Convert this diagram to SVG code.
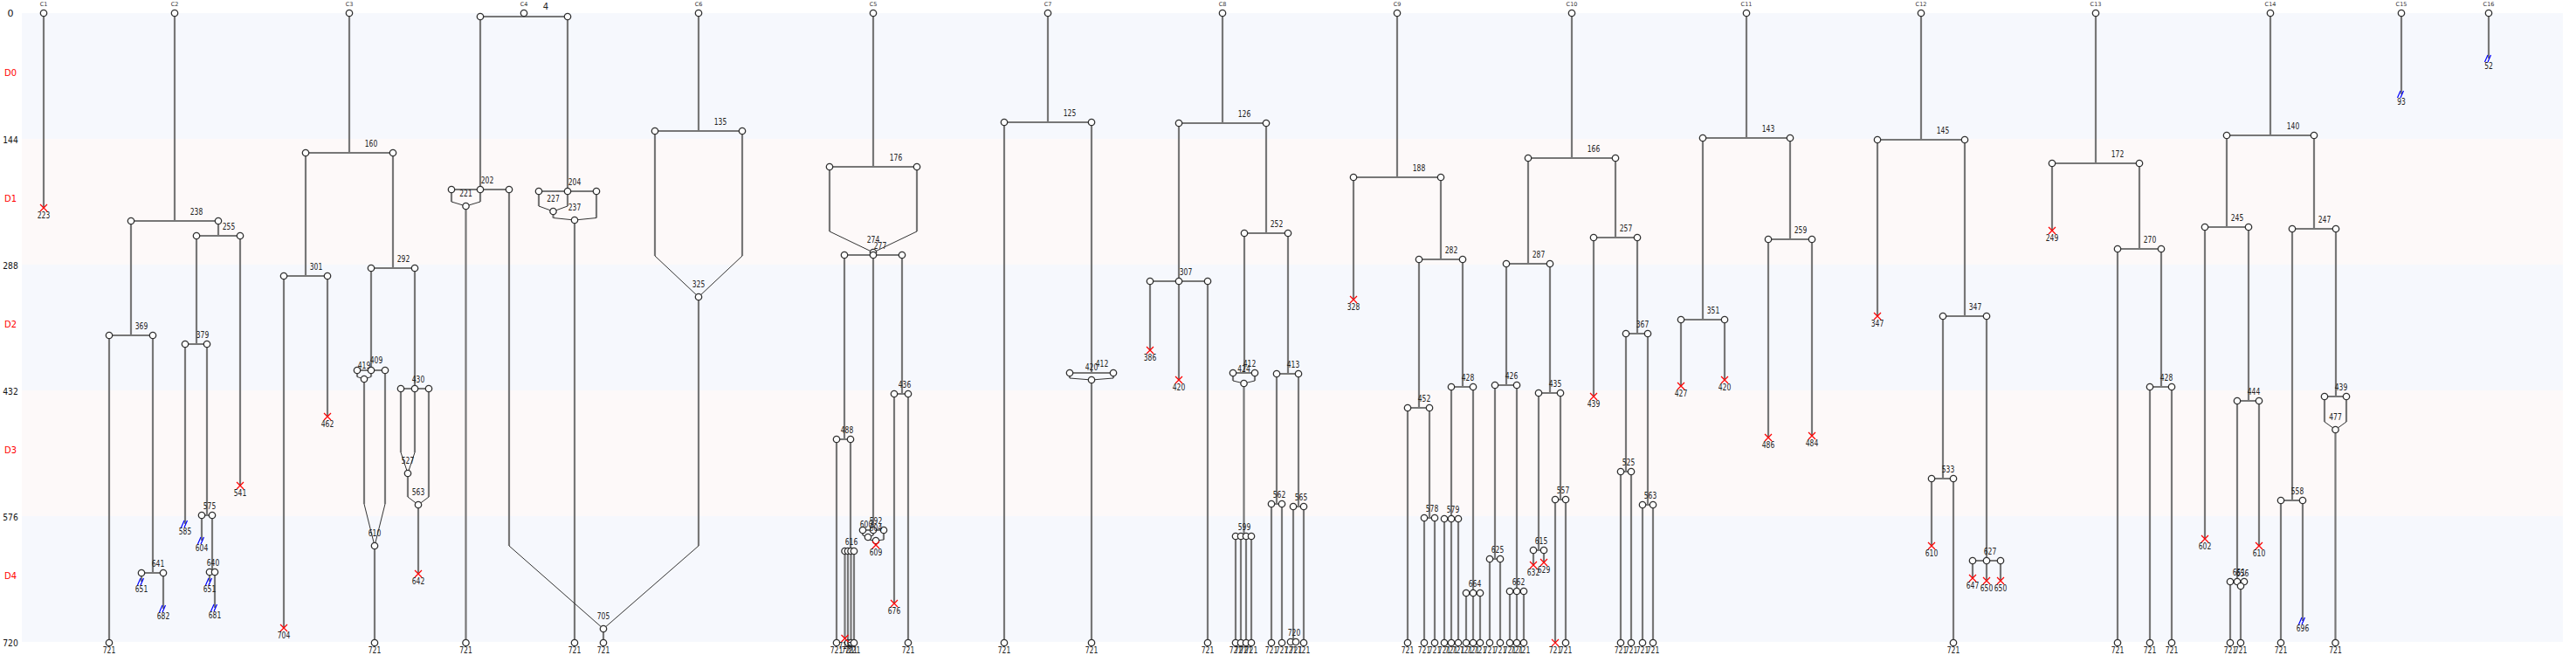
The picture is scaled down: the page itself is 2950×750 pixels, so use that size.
<svg xmlns="http://www.w3.org/2000/svg" xmlns:xlink="http://www.w3.org/1999/xlink" width="2950" height="750" viewBox="0 0 2950 750">
<style>
.e{stroke:#777;stroke-width:2.2;fill:none}
.d{stroke:#333;stroke-width:1;fill:none}
.n{fill:#fff;stroke:#333;stroke-width:1.3}
.xm{stroke:#f00;stroke-width:1.2;fill:none}
.bm{stroke:#00f;stroke-width:1.2;fill:none}
text{font-family:"DejaVu Sans","Liberation Sans",sans-serif}
.t{font-size:10px;fill:#222;text-anchor:middle}
.c{font-size:6.5px;fill:#333;text-anchor:middle}
.a{font-size:11px;fill:#111;text-anchor:middle}
.r{fill:#f00}
</style>
<defs>
<circle id="n" r="3.7" class="n"/>
<path id="x" d="M-4-4L4 4M-4 4L4-4" class="xm"/>
<path id="b" d="M-4.5 4L-1-4M-1 4L2.5-4" class="bm"/>
</defs>
<g id="bands">
<rect x="25" y="15" width="2910" height="144" fill="#f6f8fd"/>
<rect x="25" y="159" width="2910" height="144" fill="#fdf9f9"/>
<rect x="25" y="303" width="2910" height="144" fill="#f6f8fd"/>
<rect x="25" y="447" width="2910" height="144" fill="#fdf9f9"/>
<rect x="25" y="591" width="2910" height="144" fill="#f6f8fd"/>
</g>
<g id="axis">
<text class="a" x="12" y="19">0</text>
<text class="a r" x="12" y="87" textLength="14" lengthAdjust="spacingAndGlyphs">D0</text>
<text class="a" x="12" y="164" textLength="17.5" lengthAdjust="spacingAndGlyphs">144</text>
<text class="a r" x="12" y="231" textLength="14" lengthAdjust="spacingAndGlyphs">D1</text>
<text class="a" x="12" y="308" textLength="17.5" lengthAdjust="spacingAndGlyphs">288</text>
<text class="a r" x="12" y="375" textLength="14" lengthAdjust="spacingAndGlyphs">D2</text>
<text class="a" x="12" y="452" textLength="17.5" lengthAdjust="spacingAndGlyphs">432</text>
<text class="a r" x="12" y="519" textLength="14" lengthAdjust="spacingAndGlyphs">D3</text>
<text class="a" x="12" y="596" textLength="17.5" lengthAdjust="spacingAndGlyphs">576</text>
<text class="a r" x="12" y="663" textLength="14" lengthAdjust="spacingAndGlyphs">D4</text>
<text class="a" x="12" y="740" textLength="17.5" lengthAdjust="spacingAndGlyphs">720</text>
</g>
<g id="connectors">
<path class="e" d="M50 15V238"/>
<path class="e" d="M200 15V253M150 253H250M250 253V270M225 270H275M150 253V384M125 384H175M125 384V736M175 384V656M162 656H187M162 656V666M187 656V697M225 270V394M212 394H237M212 394V600M237 394V590M231 590H243M231 590V619M243 590V655M240 655H246M240 655V666M246 655V696M275 270V556"/>
<path class="e" d="M400 15V175M350 175H450M350 175V316M325 316H375M325 316V719M375 316V477M450 175V307M425 307H475M425 307V424M409 424H441M409 424V431.5M425 424V431.5M417 434V577M441 424V577M429 625V736M475 307V445M459 445H491M459 445V518M475 445V518M467 542V569M491 445V569M479 578V657"/>
<path class="d" d="M409 431.5L417 434M425 431.5L417 434M417 577L429 625M441 577L429 625M459 518L467 542M475 518L467 542M467 569L479 578M491 569L479 578"/>
<path class="e" d="M600 15V19M550 19H650M550 19V217M517 217H583M517 217V231M550 217V231M533.5 236V736M583 217V625M650 19V219M617 219H683M617 219V236M650 219V236M633.5 242V249.5M683 219V249.5M658 252V736"/>
<path class="d" d="M517 231L533.5 236M550 231L533.5 236M617 236L633.5 242M650 236L633.5 242M633.5 249.5L658 252M683 249.5L658 252M583 625L691 720"/>
<path class="e" d="M800 15V150M750 150H850M750 150V293M850 150V293M800 340V625M691 720V736"/>
<path class="d" d="M750 293L800 340M850 293L800 340M800 625L691 720"/>
<path class="e" d="M1000 15V191M950 191H1050M950 191V265M1050 191V265M1000 289V292M967 292H1033M967 292V503M958 503H974M958 503V736M974 503V631M967.5 631H978M967.5 631V731M971 631V736M974.5 631V736M978 631V736M1000 292V607M988 607H1012M988 607V613M1000 607V613M994 615V618M1012 607V618M1003 619V624M1033 292V451M1024 451H1040M1024 451V691M1040 451V736"/>
<path class="d" d="M950 265L1000 289M1050 265L1000 289M988 613L994 615M1000 613L994 615M994 618L1003 619M1012 618L1003 619"/>
<path class="e" d="M1200 15V140M1150 140H1250M1150 140V736M1250 140V427M1225 427H1275M1225 427V433M1275 427V433M1250 435V736"/>
<path class="d" d="M1225 433L1250 435M1275 433L1250 435"/>
<path class="e" d="M1400 15V141M1350 141H1450M1350 141V322M1317 322H1383M1317 322V401M1350 322V435M1383 322V736M1450 141V267M1425 267H1475M1425 267V427M1412 427H1437M1412 427V436M1437 427V436M1424.5 439V614M1415 614H1433M1415 614V736M1421 614V736M1427 614V736M1433 614V736M1475 267V428M1462 428H1487M1462 428V577M1456 577H1468M1456 577V736M1468 577V736M1487 428V580M1481 580H1493M1481 580V735M1478 735H1484M1493 580V736"/>
<path class="d" d="M1412 436L1424.5 439M1437 436L1424.5 439"/>
<path class="e" d="M1600 15V203M1550 203H1650M1550 203V343M1650 203V297M1625 297H1675M1625 297V467M1612 467H1637M1612 467V736M1637 467V593M1631 593H1643M1631 593V736M1643 593V736M1675 297V443M1662 443H1687M1662 443V594M1654 594H1670M1654 594V736M1662 594V736M1670 594V736M1687 443V679M1679 679H1695M1679 679V736M1687 679V736M1695 679V736"/>
<path class="e" d="M1800 15V181M1750 181H1850M1750 181V302M1725 302H1775M1725 302V441M1712 441H1737M1712 441V640M1706 640H1718M1706 640V736M1718 640V736M1737 441V677M1729 677H1745M1729 677V736M1737 677V736M1745 677V736M1775 302V450M1762 450H1787M1762 450V630M1756 630H1768M1756 630V647M1768 630V644M1787 450V572M1781 572H1793M1781 572V736M1793 572V736M1850 181V272M1825 272H1875M1825 272V454M1875 272V382M1862 382H1887M1862 382V540M1856 540H1868M1856 540V736M1868 540V736M1887 382V578M1881 578H1893M1881 578V736M1893 578V736"/>
<path class="e" d="M2000 15V158M1950 158H2050M1950 158V366M1925 366H1975M1925 366V442M1975 366V435M2050 158V274M2025 274H2075M2025 274V501M2075 274V499"/>
<path class="e" d="M2200 15V160M2150 160H2250M2150 160V362M2250 160V362M2225 362H2275M2225 362V548M2212 548H2237M2212 548V625M2237 548V736M2275 362V642M2259 642H2291M2259 642V662M2275 642V665M2291 642V665"/>
<path class="e" d="M2400 15V187M2350 187H2450M2350 187V264M2450 187V285M2425 285H2475M2425 285V736M2475 285V443M2462 443H2487M2462 443V736M2487 443V736"/>
<path class="e" d="M2600 15V155M2550 155H2650M2550 155V260M2525 260H2575M2525 260V617M2575 260V459M2562 459H2587M2562 459V666M2554 666H2570M2554 666V736M2562 666V669M2570 666V669M2566 671V736M2587 459V625M2650 155V262M2625 262H2675M2625 262V573M2612 573H2637M2612 573V736M2637 573V711M2675 262V454M2662 454H2687M2662 454V483M2687 454V483M2674.5 492V736"/>
<path class="d" d="M2562 669L2566 671M2570 669L2566 671M2662 483L2674.5 492M2687 483L2674.5 492"/>
<path class="e" d="M2750 15V108M2850 15V67"/>
</g>
<g id="tree-C1">
<text class="c" x="50" y="7">C1</text>
<use href="#n" x="50" y="15"/><use href="#x" x="50" y="238"/>
<text class="t" x="50" y="250" textLength="14.5" lengthAdjust="spacingAndGlyphs">223</text>
</g>
<g id="tree-C2">
<text class="c" x="200" y="7">C2</text>
<use href="#n" x="200" y="15"/><use href="#n" x="150" y="253"/><use href="#n" x="250" y="253"/><use href="#n" x="225" y="270"/><use href="#n" x="275" y="270"/><use href="#n" x="125" y="384"/><use href="#n" x="175" y="384"/><use href="#n" x="125" y="736"/><use href="#n" x="162" y="656"/><use href="#n" x="187" y="656"/><use href="#n" x="212" y="394"/><use href="#n" x="237" y="394"/><use href="#n" x="231" y="590"/><use href="#n" x="243" y="590"/><use href="#n" x="240" y="655"/><use href="#n" x="246" y="655"/>
<use href="#b" x="162" y="666"/><use href="#b" x="187" y="697"/><use href="#b" x="212" y="600"/><use href="#b" x="231" y="619"/><use href="#b" x="240" y="666"/><use href="#b" x="246" y="696"/><use href="#x" x="275" y="556"/>
<text class="t" x="225" y="245.5" textLength="14.5" lengthAdjust="spacingAndGlyphs">238</text>
<text class="t" x="262" y="262.5" textLength="14.5" lengthAdjust="spacingAndGlyphs">255</text>
<text class="t" x="162" y="376.5" textLength="14.5" lengthAdjust="spacingAndGlyphs">369</text>
<text class="t" x="125" y="748" textLength="14.5" lengthAdjust="spacingAndGlyphs">721</text>
<text class="t" x="181" y="648.5" textLength="14.5" lengthAdjust="spacingAndGlyphs">641</text>
<text class="t" x="162" y="678" textLength="14.5" lengthAdjust="spacingAndGlyphs">651</text>
<text class="t" x="187" y="709" textLength="14.5" lengthAdjust="spacingAndGlyphs">682</text>
<text class="t" x="232" y="386.5" textLength="14.5" lengthAdjust="spacingAndGlyphs">379</text>
<text class="t" x="212" y="612" textLength="14.5" lengthAdjust="spacingAndGlyphs">585</text>
<text class="t" x="240" y="582.5" textLength="14.5" lengthAdjust="spacingAndGlyphs">575</text>
<text class="t" x="231" y="631" textLength="14.5" lengthAdjust="spacingAndGlyphs">604</text>
<text class="t" x="244" y="647.5" textLength="14.5" lengthAdjust="spacingAndGlyphs">640</text>
<text class="t" x="240" y="678" textLength="14.5" lengthAdjust="spacingAndGlyphs">651</text>
<text class="t" x="246" y="708" textLength="14.5" lengthAdjust="spacingAndGlyphs">681</text>
<text class="t" x="275" y="568" textLength="14.5" lengthAdjust="spacingAndGlyphs">541</text>
</g>
<g id="tree-C3">
<text class="c" x="400" y="7">C3</text>
<use href="#n" x="400" y="15"/><use href="#n" x="350" y="175"/><use href="#n" x="450" y="175"/><use href="#n" x="325" y="316"/><use href="#n" x="375" y="316"/><use href="#n" x="425" y="307"/><use href="#n" x="475" y="307"/><use href="#n" x="409" y="424"/><use href="#n" x="425" y="424"/><use href="#n" x="441" y="424"/><use href="#n" x="417" y="434"/><use href="#n" x="429" y="625"/><use href="#n" x="429" y="736"/><use href="#n" x="459" y="445"/><use href="#n" x="475" y="445"/><use href="#n" x="491" y="445"/><use href="#n" x="467" y="542"/><use href="#n" x="479" y="578"/>
<use href="#x" x="325" y="719"/><use href="#x" x="375" y="477"/><use href="#x" x="479" y="657"/>
<text class="t" x="425" y="167.5" textLength="14.5" lengthAdjust="spacingAndGlyphs">160</text>
<text class="t" x="362" y="308.5" textLength="14.5" lengthAdjust="spacingAndGlyphs">301</text>
<text class="t" x="325" y="731" textLength="14.5" lengthAdjust="spacingAndGlyphs">704</text>
<text class="t" x="375" y="489" textLength="14.5" lengthAdjust="spacingAndGlyphs">462</text>
<text class="t" x="462" y="299.5" textLength="14.5" lengthAdjust="spacingAndGlyphs">292</text>
<text class="t" x="431" y="416" textLength="14.5" lengthAdjust="spacingAndGlyphs">409</text>
<text class="t" x="417" y="422" textLength="14.5" lengthAdjust="spacingAndGlyphs">419</text>
<text class="t" x="429" y="613.5" textLength="14.5" lengthAdjust="spacingAndGlyphs">610</text>
<text class="t" x="429" y="748" textLength="14.5" lengthAdjust="spacingAndGlyphs">721</text>
<text class="t" x="479" y="437.5" textLength="14.5" lengthAdjust="spacingAndGlyphs">430</text>
<text class="t" x="467" y="530.5" textLength="14.5" lengthAdjust="spacingAndGlyphs">527</text>
<text class="t" x="479" y="566.5" textLength="14.5" lengthAdjust="spacingAndGlyphs">563</text>
<text class="t" x="479" y="669" textLength="14.5" lengthAdjust="spacingAndGlyphs">642</text>
</g>
<g id="tree-C4">
<text class="c" x="600" y="7">C4</text>
<use href="#n" x="550" y="19"/><use href="#n" x="650" y="19"/><use href="#n" x="600" y="15"/><use href="#n" x="517" y="217"/><use href="#n" x="550" y="217"/><use href="#n" x="583" y="217"/><use href="#n" x="533.5" y="236"/><use href="#n" x="533.5" y="736"/><use href="#n" x="617" y="219"/><use href="#n" x="650" y="219"/><use href="#n" x="683" y="219"/><use href="#n" x="633.5" y="242"/><use href="#n" x="658" y="252"/><use href="#n" x="658" y="736"/>
<text class="t" x="625" y="11.3">4</text>
<text class="t" x="558" y="209.5" textLength="14.5" lengthAdjust="spacingAndGlyphs">202</text>
<text class="t" x="533.5" y="224.5" textLength="14.5" lengthAdjust="spacingAndGlyphs">221</text>
<text class="t" x="658" y="211.5" textLength="14.5" lengthAdjust="spacingAndGlyphs">204</text>
<text class="t" x="633.5" y="230.5" textLength="14.5" lengthAdjust="spacingAndGlyphs">227</text>
<text class="t" x="658" y="240.5" textLength="14.5" lengthAdjust="spacingAndGlyphs">237</text>
<text class="t" x="533.5" y="748" textLength="14.5" lengthAdjust="spacingAndGlyphs">721</text>
<text class="t" x="658" y="748" textLength="14.5" lengthAdjust="spacingAndGlyphs">721</text>
</g>
<g id="tree-C6">
<text class="c" x="800" y="7">C6</text>
<use href="#n" x="800" y="15"/><use href="#n" x="750" y="150"/><use href="#n" x="850" y="150"/><use href="#n" x="800" y="340"/><use href="#n" x="691" y="720"/><use href="#n" x="691" y="736"/>
<text class="t" x="825" y="142.5" textLength="14.5" lengthAdjust="spacingAndGlyphs">135</text>
<text class="t" x="800" y="328.5" textLength="14.5" lengthAdjust="spacingAndGlyphs">325</text>
<text class="t" x="691" y="708.5" textLength="14.5" lengthAdjust="spacingAndGlyphs">705</text>
<text class="t" x="691" y="748" textLength="14.5" lengthAdjust="spacingAndGlyphs">721</text>
</g>
<g id="tree-C5">
<text class="c" x="1000" y="7">C5</text>
<use href="#n" x="1000" y="15"/><use href="#n" x="950" y="191"/><use href="#n" x="1050" y="191"/><use href="#n" x="1000" y="289"/><use href="#n" x="967" y="292"/><use href="#n" x="1000" y="292"/><use href="#n" x="1033" y="292"/><use href="#n" x="958" y="503"/><use href="#n" x="974" y="503"/><use href="#n" x="958" y="736"/><use href="#n" x="967.5" y="631"/><use href="#n" x="971" y="631"/><use href="#n" x="974.5" y="631"/><use href="#n" x="978" y="631"/><use href="#n" x="971" y="736"/><use href="#n" x="974.5" y="736"/><use href="#n" x="978" y="736"/><use href="#n" x="988" y="607"/><use href="#n" x="1000" y="607"/><use href="#n" x="1012" y="607"/><use href="#n" x="994" y="615"/><use href="#n" x="1003" y="619"/><use href="#n" x="1024" y="451"/><use href="#n" x="1040" y="451"/><use href="#n" x="1040" y="736"/>
<use href="#x" x="967.5" y="731"/><use href="#x" x="1003" y="624"/><use href="#x" x="1024" y="691"/>
<text class="t" x="1026" y="183.5" textLength="14.5" lengthAdjust="spacingAndGlyphs">176</text>
<text class="t" x="1000" y="277.5" textLength="14.5" lengthAdjust="spacingAndGlyphs">274</text>
<text class="t" x="1008" y="284.5" textLength="14.5" lengthAdjust="spacingAndGlyphs">277</text>
<text class="t" x="970" y="495.5" textLength="14.5" lengthAdjust="spacingAndGlyphs">488</text>
<text class="t" x="958" y="748" textLength="14.5" lengthAdjust="spacingAndGlyphs">721</text>
<text class="t" x="975" y="623.5" textLength="14.5" lengthAdjust="spacingAndGlyphs">616</text>
<text class="t" x="967.5" y="743" textLength="14.5" lengthAdjust="spacingAndGlyphs">716</text>
<text class="t" x="971" y="748" textLength="14.5" lengthAdjust="spacingAndGlyphs">721</text>
<text class="t" x="974.5" y="748" textLength="14.5" lengthAdjust="spacingAndGlyphs">721</text>
<text class="t" x="978" y="748" textLength="14.5" lengthAdjust="spacingAndGlyphs">721</text>
<text class="t" x="1003" y="599.5" textLength="14.5" lengthAdjust="spacingAndGlyphs">592</text>
<text class="t" x="992" y="603.5" textLength="14.5" lengthAdjust="spacingAndGlyphs">600</text>
<text class="t" x="1003" y="608" textLength="14.5" lengthAdjust="spacingAndGlyphs">604</text>
<text class="t" x="1003" y="636" textLength="14.5" lengthAdjust="spacingAndGlyphs">609</text>
<text class="t" x="1036" y="443.5" textLength="14.5" lengthAdjust="spacingAndGlyphs">436</text>
<text class="t" x="1024" y="703" textLength="14.5" lengthAdjust="spacingAndGlyphs">676</text>
<text class="t" x="1040" y="748" textLength="14.5" lengthAdjust="spacingAndGlyphs">721</text>
</g>
<g id="tree-C7">
<text class="c" x="1200" y="7">C7</text>
<use href="#n" x="1200" y="15"/><use href="#n" x="1150" y="140"/><use href="#n" x="1250" y="140"/><use href="#n" x="1150" y="736"/><use href="#n" x="1225" y="427"/><use href="#n" x="1275" y="427"/><use href="#n" x="1250" y="435"/><use href="#n" x="1250" y="736"/>
<text class="t" x="1225" y="132.5" textLength="14.5" lengthAdjust="spacingAndGlyphs">125</text>
<text class="t" x="1150" y="748" textLength="14.5" lengthAdjust="spacingAndGlyphs">721</text>
<text class="t" x="1262" y="419.5" textLength="14.5" lengthAdjust="spacingAndGlyphs">412</text>
<text class="t" x="1250" y="423.5" textLength="14.5" lengthAdjust="spacingAndGlyphs">420</text>
<text class="t" x="1250" y="748" textLength="14.5" lengthAdjust="spacingAndGlyphs">721</text>
</g>
<g id="tree-C8">
<text class="c" x="1400" y="7">C8</text>
<use href="#n" x="1400" y="15"/><use href="#n" x="1350" y="141"/><use href="#n" x="1450" y="141"/><use href="#n" x="1317" y="322"/><use href="#n" x="1350" y="322"/><use href="#n" x="1383" y="322"/><use href="#n" x="1383" y="736"/><use href="#n" x="1425" y="267"/><use href="#n" x="1475" y="267"/><use href="#n" x="1412" y="427"/><use href="#n" x="1437" y="427"/><use href="#n" x="1424.5" y="439"/><use href="#n" x="1415" y="614"/><use href="#n" x="1421" y="614"/><use href="#n" x="1427" y="614"/><use href="#n" x="1433" y="614"/><use href="#n" x="1415" y="736"/><use href="#n" x="1421" y="736"/><use href="#n" x="1427" y="736"/><use href="#n" x="1433" y="736"/><use href="#n" x="1462" y="428"/><use href="#n" x="1487" y="428"/><use href="#n" x="1456" y="577"/><use href="#n" x="1468" y="577"/><use href="#n" x="1456" y="736"/><use href="#n" x="1468" y="736"/><use href="#n" x="1481" y="580"/><use href="#n" x="1493" y="580"/><use href="#n" x="1478" y="735"/><use href="#n" x="1484" y="735"/><use href="#n" x="1493" y="736"/>
<use href="#x" x="1317" y="401"/><use href="#x" x="1350" y="435"/>
<text class="t" x="1425" y="133.5" textLength="14.5" lengthAdjust="spacingAndGlyphs">126</text>
<text class="t" x="1358" y="314.5" textLength="14.5" lengthAdjust="spacingAndGlyphs">307</text>
<text class="t" x="1317" y="413" textLength="14.5" lengthAdjust="spacingAndGlyphs">386</text>
<text class="t" x="1350" y="447" textLength="14.5" lengthAdjust="spacingAndGlyphs">420</text>
<text class="t" x="1383" y="748" textLength="14.5" lengthAdjust="spacingAndGlyphs">721</text>
<text class="t" x="1462" y="259.5" textLength="14.5" lengthAdjust="spacingAndGlyphs">252</text>
<text class="t" x="1431" y="419.5" textLength="14.5" lengthAdjust="spacingAndGlyphs">412</text>
<text class="t" x="1424.5" y="426" textLength="14.5" lengthAdjust="spacingAndGlyphs">424</text>
<text class="t" x="1425" y="606.5" textLength="14.5" lengthAdjust="spacingAndGlyphs">599</text>
<text class="t" x="1415" y="748" textLength="14.5" lengthAdjust="spacingAndGlyphs">721</text>
<text class="t" x="1421" y="748" textLength="14.5" lengthAdjust="spacingAndGlyphs">721</text>
<text class="t" x="1427" y="748" textLength="14.5" lengthAdjust="spacingAndGlyphs">721</text>
<text class="t" x="1433" y="748" textLength="14.5" lengthAdjust="spacingAndGlyphs">721</text>
<text class="t" x="1481" y="420.5" textLength="14.5" lengthAdjust="spacingAndGlyphs">413</text>
<text class="t" x="1465" y="569.5" textLength="14.5" lengthAdjust="spacingAndGlyphs">562</text>
<text class="t" x="1456" y="748" textLength="14.5" lengthAdjust="spacingAndGlyphs">721</text>
<text class="t" x="1468" y="748" textLength="14.5" lengthAdjust="spacingAndGlyphs">721</text>
<text class="t" x="1490" y="572.5" textLength="14.5" lengthAdjust="spacingAndGlyphs">565</text>
<text class="t" x="1482" y="727.5" textLength="14.5" lengthAdjust="spacingAndGlyphs">720</text>
<text class="t" x="1478" y="748" textLength="14.5" lengthAdjust="spacingAndGlyphs">721</text>
<text class="t" x="1484" y="748" textLength="14.5" lengthAdjust="spacingAndGlyphs">721</text>
<text class="t" x="1493" y="748" textLength="14.5" lengthAdjust="spacingAndGlyphs">721</text>
</g>
<g id="tree-C9">
<text class="c" x="1600" y="7">C9</text>
<use href="#n" x="1600" y="15"/><use href="#n" x="1550" y="203"/><use href="#n" x="1650" y="203"/><use href="#n" x="1625" y="297"/><use href="#n" x="1675" y="297"/><use href="#n" x="1612" y="467"/><use href="#n" x="1637" y="467"/><use href="#n" x="1612" y="736"/><use href="#n" x="1631" y="593"/><use href="#n" x="1643" y="593"/><use href="#n" x="1631" y="736"/><use href="#n" x="1643" y="736"/><use href="#n" x="1662" y="443"/><use href="#n" x="1687" y="443"/><use href="#n" x="1654" y="594"/><use href="#n" x="1662" y="594"/><use href="#n" x="1670" y="594"/><use href="#n" x="1654" y="736"/><use href="#n" x="1662" y="736"/><use href="#n" x="1670" y="736"/><use href="#n" x="1679" y="679"/><use href="#n" x="1687" y="679"/><use href="#n" x="1695" y="679"/><use href="#n" x="1679" y="736"/><use href="#n" x="1687" y="736"/><use href="#n" x="1695" y="736"/>
<use href="#x" x="1550" y="343"/>
<text class="t" x="1625" y="195.5" textLength="14.5" lengthAdjust="spacingAndGlyphs">188</text>
<text class="t" x="1550" y="355" textLength="14.5" lengthAdjust="spacingAndGlyphs">328</text>
<text class="t" x="1662" y="289.5" textLength="14.5" lengthAdjust="spacingAndGlyphs">282</text>
<text class="t" x="1631" y="459.5" textLength="14.5" lengthAdjust="spacingAndGlyphs">452</text>
<text class="t" x="1612" y="748" textLength="14.5" lengthAdjust="spacingAndGlyphs">721</text>
<text class="t" x="1640" y="585.5" textLength="14.5" lengthAdjust="spacingAndGlyphs">578</text>
<text class="t" x="1631" y="748" textLength="14.5" lengthAdjust="spacingAndGlyphs">721</text>
<text class="t" x="1643" y="748" textLength="14.5" lengthAdjust="spacingAndGlyphs">721</text>
<text class="t" x="1681" y="435.5" textLength="14.5" lengthAdjust="spacingAndGlyphs">428</text>
<text class="t" x="1664" y="586.5" textLength="14.5" lengthAdjust="spacingAndGlyphs">579</text>
<text class="t" x="1654" y="748" textLength="14.5" lengthAdjust="spacingAndGlyphs">721</text>
<text class="t" x="1662" y="748" textLength="14.5" lengthAdjust="spacingAndGlyphs">721</text>
<text class="t" x="1670" y="748" textLength="14.5" lengthAdjust="spacingAndGlyphs">721</text>
<text class="t" x="1689" y="671.5" textLength="14.5" lengthAdjust="spacingAndGlyphs">664</text>
<text class="t" x="1679" y="748" textLength="14.5" lengthAdjust="spacingAndGlyphs">721</text>
<text class="t" x="1687" y="748" textLength="14.5" lengthAdjust="spacingAndGlyphs">721</text>
<text class="t" x="1695" y="748" textLength="14.5" lengthAdjust="spacingAndGlyphs">721</text>
</g>
<g id="tree-C10">
<text class="c" x="1800" y="7">C10</text>
<use href="#n" x="1800" y="15"/><use href="#n" x="1750" y="181"/><use href="#n" x="1850" y="181"/><use href="#n" x="1725" y="302"/><use href="#n" x="1775" y="302"/><use href="#n" x="1712" y="441"/><use href="#n" x="1737" y="441"/><use href="#n" x="1706" y="640"/><use href="#n" x="1718" y="640"/><use href="#n" x="1706" y="736"/><use href="#n" x="1718" y="736"/><use href="#n" x="1729" y="677"/><use href="#n" x="1737" y="677"/><use href="#n" x="1745" y="677"/><use href="#n" x="1729" y="736"/><use href="#n" x="1737" y="736"/><use href="#n" x="1745" y="736"/><use href="#n" x="1762" y="450"/><use href="#n" x="1787" y="450"/><use href="#n" x="1756" y="630"/><use href="#n" x="1768" y="630"/><use href="#n" x="1781" y="572"/><use href="#n" x="1793" y="572"/><use href="#n" x="1793" y="736"/><use href="#n" x="1825" y="272"/><use href="#n" x="1875" y="272"/><use href="#n" x="1862" y="382"/><use href="#n" x="1887" y="382"/><use href="#n" x="1856" y="540"/><use href="#n" x="1868" y="540"/><use href="#n" x="1856" y="736"/><use href="#n" x="1868" y="736"/><use href="#n" x="1881" y="578"/><use href="#n" x="1893" y="578"/><use href="#n" x="1881" y="736"/><use href="#n" x="1893" y="736"/>
<use href="#x" x="1756" y="647"/><use href="#x" x="1768" y="644"/><use href="#x" x="1781" y="736"/><use href="#x" x="1825" y="454"/>
<text class="t" x="1825" y="173.5" textLength="14.5" lengthAdjust="spacingAndGlyphs">166</text>
<text class="t" x="1762" y="294.5" textLength="14.5" lengthAdjust="spacingAndGlyphs">287</text>
<text class="t" x="1731" y="433.5" textLength="14.5" lengthAdjust="spacingAndGlyphs">426</text>
<text class="t" x="1715" y="632.5" textLength="14.5" lengthAdjust="spacingAndGlyphs">625</text>
<text class="t" x="1706" y="748" textLength="14.5" lengthAdjust="spacingAndGlyphs">721</text>
<text class="t" x="1718" y="748" textLength="14.5" lengthAdjust="spacingAndGlyphs">721</text>
<text class="t" x="1739" y="669.5" textLength="14.5" lengthAdjust="spacingAndGlyphs">662</text>
<text class="t" x="1729" y="748" textLength="14.5" lengthAdjust="spacingAndGlyphs">721</text>
<text class="t" x="1737" y="748" textLength="14.5" lengthAdjust="spacingAndGlyphs">721</text>
<text class="t" x="1745" y="748" textLength="14.5" lengthAdjust="spacingAndGlyphs">721</text>
<text class="t" x="1781" y="442.5" textLength="14.5" lengthAdjust="spacingAndGlyphs">435</text>
<text class="t" x="1765" y="622.5" textLength="14.5" lengthAdjust="spacingAndGlyphs">615</text>
<text class="t" x="1756" y="659" textLength="14.5" lengthAdjust="spacingAndGlyphs">632</text>
<text class="t" x="1768" y="656" textLength="14.5" lengthAdjust="spacingAndGlyphs">629</text>
<text class="t" x="1790" y="564.5" textLength="14.5" lengthAdjust="spacingAndGlyphs">557</text>
<text class="t" x="1781" y="748" textLength="14.5" lengthAdjust="spacingAndGlyphs">721</text>
<text class="t" x="1793" y="748" textLength="14.5" lengthAdjust="spacingAndGlyphs">721</text>
<text class="t" x="1862" y="264.5" textLength="14.5" lengthAdjust="spacingAndGlyphs">257</text>
<text class="t" x="1825" y="466" textLength="14.5" lengthAdjust="spacingAndGlyphs">439</text>
<text class="t" x="1881" y="374.5" textLength="14.5" lengthAdjust="spacingAndGlyphs">367</text>
<text class="t" x="1865" y="532.5" textLength="14.5" lengthAdjust="spacingAndGlyphs">525</text>
<text class="t" x="1856" y="748" textLength="14.5" lengthAdjust="spacingAndGlyphs">721</text>
<text class="t" x="1868" y="748" textLength="14.5" lengthAdjust="spacingAndGlyphs">721</text>
<text class="t" x="1890" y="570.5" textLength="14.5" lengthAdjust="spacingAndGlyphs">563</text>
<text class="t" x="1881" y="748" textLength="14.5" lengthAdjust="spacingAndGlyphs">721</text>
<text class="t" x="1893" y="748" textLength="14.5" lengthAdjust="spacingAndGlyphs">721</text>
</g>
<g id="tree-C11">
<text class="c" x="2000" y="7">C11</text>
<use href="#n" x="2000" y="15"/><use href="#n" x="1950" y="158"/><use href="#n" x="2050" y="158"/><use href="#n" x="1925" y="366"/><use href="#n" x="1975" y="366"/><use href="#n" x="2025" y="274"/><use href="#n" x="2075" y="274"/>
<use href="#x" x="1925" y="442"/><use href="#x" x="1975" y="435"/><use href="#x" x="2025" y="501"/><use href="#x" x="2075" y="499"/>
<text class="t" x="2025" y="150.5" textLength="14.5" lengthAdjust="spacingAndGlyphs">143</text>
<text class="t" x="1962" y="358.5" textLength="14.5" lengthAdjust="spacingAndGlyphs">351</text>
<text class="t" x="1925" y="454" textLength="14.5" lengthAdjust="spacingAndGlyphs">427</text>
<text class="t" x="1975" y="447" textLength="14.5" lengthAdjust="spacingAndGlyphs">420</text>
<text class="t" x="2062" y="266.5" textLength="14.5" lengthAdjust="spacingAndGlyphs">259</text>
<text class="t" x="2025" y="513" textLength="14.5" lengthAdjust="spacingAndGlyphs">486</text>
<text class="t" x="2075" y="511" textLength="14.5" lengthAdjust="spacingAndGlyphs">484</text>
</g>
<g id="tree-C12">
<text class="c" x="2200" y="7">C12</text>
<use href="#n" x="2200" y="15"/><use href="#n" x="2150" y="160"/><use href="#n" x="2250" y="160"/><use href="#n" x="2225" y="362"/><use href="#n" x="2275" y="362"/><use href="#n" x="2212" y="548"/><use href="#n" x="2237" y="548"/><use href="#n" x="2237" y="736"/><use href="#n" x="2259" y="642"/><use href="#n" x="2275" y="642"/><use href="#n" x="2291" y="642"/>
<use href="#x" x="2150" y="362"/><use href="#x" x="2212" y="625"/><use href="#x" x="2259" y="662"/><use href="#x" x="2275" y="665"/><use href="#x" x="2291" y="665"/>
<text class="t" x="2225" y="152.5" textLength="14.5" lengthAdjust="spacingAndGlyphs">145</text>
<text class="t" x="2150" y="374" textLength="14.5" lengthAdjust="spacingAndGlyphs">347</text>
<text class="t" x="2262" y="354.5" textLength="14.5" lengthAdjust="spacingAndGlyphs">347</text>
<text class="t" x="2231" y="540.5" textLength="14.5" lengthAdjust="spacingAndGlyphs">533</text>
<text class="t" x="2212" y="637" textLength="14.5" lengthAdjust="spacingAndGlyphs">610</text>
<text class="t" x="2237" y="748" textLength="14.5" lengthAdjust="spacingAndGlyphs">721</text>
<text class="t" x="2279" y="634.5" textLength="14.5" lengthAdjust="spacingAndGlyphs">627</text>
<text class="t" x="2259" y="674" textLength="14.5" lengthAdjust="spacingAndGlyphs">647</text>
<text class="t" x="2275" y="677" textLength="14.5" lengthAdjust="spacingAndGlyphs">650</text>
<text class="t" x="2291" y="677" textLength="14.5" lengthAdjust="spacingAndGlyphs">650</text>
</g>
<g id="tree-C13">
<text class="c" x="2400" y="7">C13</text>
<use href="#n" x="2400" y="15"/><use href="#n" x="2350" y="187"/><use href="#n" x="2450" y="187"/><use href="#n" x="2425" y="285"/><use href="#n" x="2475" y="285"/><use href="#n" x="2425" y="736"/><use href="#n" x="2462" y="443"/><use href="#n" x="2487" y="443"/><use href="#n" x="2462" y="736"/><use href="#n" x="2487" y="736"/>
<use href="#x" x="2350" y="264"/>
<text class="t" x="2425" y="179.5" textLength="14.5" lengthAdjust="spacingAndGlyphs">172</text>
<text class="t" x="2350" y="276" textLength="14.5" lengthAdjust="spacingAndGlyphs">249</text>
<text class="t" x="2462" y="277.5" textLength="14.5" lengthAdjust="spacingAndGlyphs">270</text>
<text class="t" x="2425" y="748" textLength="14.5" lengthAdjust="spacingAndGlyphs">721</text>
<text class="t" x="2481" y="435.5" textLength="14.5" lengthAdjust="spacingAndGlyphs">428</text>
<text class="t" x="2462" y="748" textLength="14.5" lengthAdjust="spacingAndGlyphs">721</text>
<text class="t" x="2487" y="748" textLength="14.5" lengthAdjust="spacingAndGlyphs">721</text>
</g>
<g id="tree-C14">
<text class="c" x="2600" y="7">C14</text>
<use href="#n" x="2600" y="15"/><use href="#n" x="2550" y="155"/><use href="#n" x="2650" y="155"/><use href="#n" x="2525" y="260"/><use href="#n" x="2575" y="260"/><use href="#n" x="2562" y="459"/><use href="#n" x="2587" y="459"/><use href="#n" x="2554" y="666"/><use href="#n" x="2562" y="666"/><use href="#n" x="2570" y="666"/><use href="#n" x="2566" y="671"/><use href="#n" x="2554" y="736"/><use href="#n" x="2566" y="736"/><use href="#n" x="2625" y="262"/><use href="#n" x="2675" y="262"/><use href="#n" x="2612" y="573"/><use href="#n" x="2637" y="573"/><use href="#n" x="2612" y="736"/><use href="#n" x="2662" y="454"/><use href="#n" x="2687" y="454"/><use href="#n" x="2674.5" y="492"/><use href="#n" x="2674.5" y="736"/>
<use href="#x" x="2525" y="617"/><use href="#x" x="2587" y="625"/><use href="#b" x="2637" y="711"/>
<text class="t" x="2626" y="147.5" textLength="14.5" lengthAdjust="spacingAndGlyphs">140</text>
<text class="t" x="2562" y="252.5" textLength="14.5" lengthAdjust="spacingAndGlyphs">245</text>
<text class="t" x="2525" y="629" textLength="14.5" lengthAdjust="spacingAndGlyphs">602</text>
<text class="t" x="2581" y="451.5" textLength="14.5" lengthAdjust="spacingAndGlyphs">444</text>
<text class="t" x="2564" y="658.5" textLength="14.5" lengthAdjust="spacingAndGlyphs">651</text>
<text class="t" x="2568" y="659.5" textLength="14.5" lengthAdjust="spacingAndGlyphs">656</text>
<text class="t" x="2554" y="748" textLength="14.5" lengthAdjust="spacingAndGlyphs">721</text>
<text class="t" x="2566" y="748" textLength="14.5" lengthAdjust="spacingAndGlyphs">721</text>
<text class="t" x="2587" y="637" textLength="14.5" lengthAdjust="spacingAndGlyphs">610</text>
<text class="t" x="2662" y="254.5" textLength="14.5" lengthAdjust="spacingAndGlyphs">247</text>
<text class="t" x="2631" y="565.5" textLength="14.5" lengthAdjust="spacingAndGlyphs">558</text>
<text class="t" x="2612" y="748" textLength="14.5" lengthAdjust="spacingAndGlyphs">721</text>
<text class="t" x="2637" y="723" textLength="14.5" lengthAdjust="spacingAndGlyphs">696</text>
<text class="t" x="2681" y="446.5" textLength="14.5" lengthAdjust="spacingAndGlyphs">439</text>
<text class="t" x="2674.5" y="480.5" textLength="14.5" lengthAdjust="spacingAndGlyphs">477</text>
<text class="t" x="2674.5" y="748" textLength="14.5" lengthAdjust="spacingAndGlyphs">721</text>
</g>
<g id="tree-C15">
<text class="c" x="2750" y="7">C15</text>
<use href="#n" x="2750" y="15"/><use href="#b" x="2750" y="108"/>
<text class="t" x="2750" y="120" textLength="9.7" lengthAdjust="spacingAndGlyphs">93</text>
</g>
<g id="tree-C16">
<text class="c" x="2850" y="7">C16</text>
<use href="#n" x="2850" y="15"/><use href="#b" x="2850" y="67"/>
<text class="t" x="2850" y="79" textLength="9.7" lengthAdjust="spacingAndGlyphs">52</text>
</g>
</svg>
